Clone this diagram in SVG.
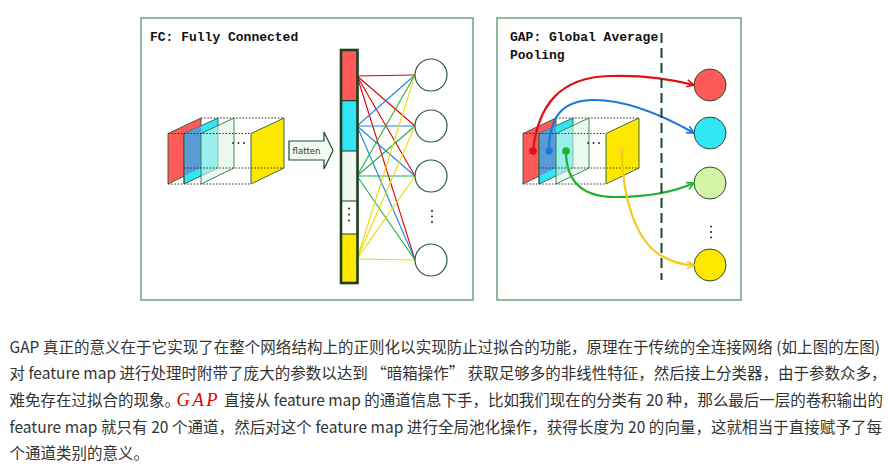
<svg xmlns="http://www.w3.org/2000/svg" xmlns:xlink="http://www.w3.org/1999/xlink" width="888" height="467" viewBox="0 0 888 467">
<style>
.panel{fill:#fff;stroke:#78a888;stroke-width:1.6}
.title{font-family:"Liberation Mono","DejaVu Sans Mono",monospace;font-weight:bold;font-size:13px;fill:#111}
.plane{stroke:#2a5a3a;stroke-width:0.9}
.dotl{stroke:#222;stroke-width:1;stroke-dasharray:1.4 1.8;fill:none}
.fcn{fill:#fff;stroke:#2a5a3a;stroke-width:1.2}
.gapn{stroke:#2a4a2a;stroke-width:1}
.ln{stroke-width:1.1;fill:none}
.cv{stroke-width:2.2;fill:none}
.para{font-family:"Noto Sans CJK SC","Noto Sans",sans-serif;font-size:15.5px;fill:#333}
</style>
<defs>
<marker id="arR" viewBox="0 0 10 10" refX="9" refY="5" markerWidth="9" markerHeight="9" markerUnits="userSpaceOnUse" orient="auto"><path d="M1,1 L9,5 L1,9" fill="none" stroke="#e01010" stroke-width="1.8"/></marker>
<marker id="arB" viewBox="0 0 10 10" refX="9" refY="5" markerWidth="9" markerHeight="9" markerUnits="userSpaceOnUse" orient="auto"><path d="M1,1 L9,5 L1,9" fill="none" stroke="#1a78d8" stroke-width="1.8"/></marker>
<marker id="arG" viewBox="0 0 10 10" refX="9" refY="5" markerWidth="9" markerHeight="9" markerUnits="userSpaceOnUse" orient="auto"><path d="M1,1 L9,5 L1,9" fill="none" stroke="#22b030" stroke-width="1.8"/></marker>
<marker id="arY" viewBox="0 0 10 10" refX="9" refY="5" markerWidth="9" markerHeight="9" markerUnits="userSpaceOnUse" orient="auto"><path d="M1,1 L9,5 L1,9" fill="none" stroke="#f2c81a" stroke-width="1.8"/></marker>
<g id="fmaps">
<polygon class="plane" points="168,133.5 201,118 201,168 168,184" fill="#ff5a5a"/>
<polygon class="plane" points="184,133.5 218,118 218,168 184,184" fill="#33e6f5"/>
<polygon points="184,133.5 201,125.7 201,168 184,176" fill="#5b9bd5"/>
<polyline points="184,133.5 184,184" stroke="#2a5a3a" stroke-width="0.9" fill="none"/>
<polygon points="201,133.5 234,118 234,168 201,184" fill="#dcf5e4" fill-opacity="0.6" stroke="#2a7a4a" stroke-width="0.9"/>
<polygon class="plane" points="251,133.5 284,118 284,168 251,184" fill="#ffe800"/>
<path class="dotl" d="M201,118 H284 M168,133.5 H251 M184,168 H284 M168,184 H251"/>
<circle cx="233" cy="143" r="0.9" fill="#222"/><circle cx="238.5" cy="143" r="0.9" fill="#222"/><circle cx="244" cy="143" r="0.9" fill="#222"/>
</g>
</defs>

<g id="fc-panel">
<rect class="panel" x="141" y="18" width="332" height="282"/>
<text class="title" x="150" y="40.5">FC: Fully Connected</text>
</g>
<g id="fc-featuremaps"><use xlink:href="#fmaps"/></g>
<g id="flatten">
<path d="M289,141 H324 V132 L333,150.5 L324,169 V160 H289 Z" fill="#f2faf2" stroke="#1e4a2a" stroke-width="1.2"/>
<text x="306.5" y="153.5" text-anchor="middle" font-family="DejaVu Sans, sans-serif" font-size="8.5" fill="#333">flatten</text>
</g>

<g id="connectors">
<g class="ln" stroke="#e00000">
<line x1="357" y1="76" x2="415" y2="75"/><line x1="357" y1="76" x2="415" y2="126"/><line x1="357" y1="76" x2="415" y2="176"/><line x1="357" y1="76" x2="415" y2="260"/>
</g>
<g class="ln" stroke="#1f86e0">
<line x1="357" y1="126" x2="415" y2="75"/><line x1="357" y1="126" x2="415" y2="126"/><line x1="357" y1="126" x2="415" y2="176"/><line x1="357" y1="126" x2="415" y2="260"/>
</g>
<g class="ln" stroke="#22b040">
<line x1="357" y1="176" x2="415" y2="75"/><line x1="357" y1="176" x2="415" y2="126"/><line x1="357" y1="176" x2="415" y2="176"/><line x1="357" y1="176" x2="415" y2="260"/>
</g>
<g class="ln" stroke="#f2d800">
<line x1="357" y1="259" x2="415" y2="75"/><line x1="357" y1="259" x2="415" y2="126"/><line x1="357" y1="259" x2="415" y2="176"/><line x1="357" y1="259" x2="415" y2="260"/>
</g>
</g>

<g id="fc-vector">
<rect x="341" y="50" width="16.5" height="50.7" fill="#ff5a5a"/>
<rect x="341" y="100.7" width="16.5" height="50.3" fill="#33e6f5"/>
<rect x="341" y="151" width="16.5" height="50" fill="#eef8ee"/>
<rect x="341" y="201" width="16.5" height="33" fill="#fff"/>
<rect x="341" y="234" width="16.5" height="49" fill="#ffe800"/>
<path d="M341,100.7 H357.5 M341,151 H357.5 M341,201 H357.5 M341,234 H357.5" stroke="#1e3f1e" stroke-width="1.2"/>
<rect x="341" y="50" width="16.5" height="233" fill="none" stroke="#1e3f1e" stroke-width="2.6"/>
<circle cx="349" cy="208.5" r="1" fill="#222"/><circle cx="349" cy="214.5" r="1" fill="#222"/><circle cx="349" cy="220.5" r="1" fill="#222"/>
</g>
<g id="fc-n1"><circle class="fcn" cx="431" cy="75" r="16"/></g>
<g id="fc-n2"><circle class="fcn" cx="431" cy="126" r="16"/></g>
<g id="fc-n3"><circle class="fcn" cx="431" cy="176" r="16"/></g>
<g id="fc-dots"><circle cx="432" cy="211" r="1" fill="#222"/><circle cx="432" cy="216.5" r="1" fill="#222"/><circle cx="432" cy="222" r="1" fill="#222"/></g>
<g id="fc-n4"><circle class="fcn" cx="431" cy="260" r="16"/></g>

<g id="gap-panel">
<rect class="panel" x="497" y="18" width="244" height="282"/>
<text class="title" x="510" y="40.5">GAP: Global Average</text>
<text class="title" x="510" y="58.5">Pooling</text>
</g>
<g id="gap-featuremaps">
<use xlink:href="#fmaps" transform="translate(355,0)"/>
<circle cx="622" cy="151" r="3.8" fill="#ffc830" fill-opacity="0.55"/>
</g>
<g id="gap-n1"><circle class="gapn" cx="710" cy="85" r="16" fill="#ff5a5a"/></g>
<g id="gap-n2"><circle class="gapn" cx="710" cy="133" r="16" fill="#33e6f5"/></g>
<g id="gap-n3"><circle class="gapn" cx="710" cy="183" r="16" fill="#d4f5a8"/></g>
<g id="gap-dots"><circle cx="711" cy="226.5" r="1" fill="#222"/><circle cx="711" cy="232" r="1" fill="#222"/><circle cx="711" cy="237.5" r="1" fill="#222"/></g>
<g id="gap-n4"><circle class="gapn" cx="710" cy="265" r="16" fill="#ffe800"/></g>

<g id="gap-connectors">
<path class="cv" stroke="#e01010" d="M533,151 C538,105 560,77 610,76 C640,75 670,79 694,85" marker-end="url(#arR)"/>
<path class="cv" stroke="#1a78d8" d="M549,151 C549,116 563,100 594,100 C628,100 664,116 694,133" marker-end="url(#arB)"/>
<path class="cv" stroke="#22b030" d="M566,151 C566,182 582,197 615,197 C650,197 674,192 694,183" marker-end="url(#arG)"/>
<path class="cv" stroke="#f2c81a" d="M622,151 C622,198 636,240 660,255 C673,263 684,265 694,265" marker-end="url(#arY)"/>
<circle cx="533" cy="151" r="3.8" fill="#e01010"/>
<circle cx="549" cy="151" r="3.8" fill="#1a78d8"/>
<circle cx="566" cy="151" r="3.8" fill="#22b030"/>
</g>
<g id="gap-divider"><line x1="661.5" y1="33" x2="661.5" y2="280" stroke="#1a4a2a" stroke-width="2" stroke-dasharray="10 5"/></g>

<g id="paragraph">
<text class="para" x="9.5" y="352.5" textLength="870.5" lengthAdjust="spacing">GAP 真正的意义在于它实现了在整个网络结构上的正则化以实现防止过拟合的功能，原理在于传统的全连接网络 (如上图的左图)</text>
<text class="para" x="9.5" y="379.2" textLength="877" lengthAdjust="spacing">对 feature map 进行处理时附带了庞大的参数以达到 “暗箱操作” 获取足够多的非线性特征，然后接上分类器，由于参数众多，</text>
<text class="para" x="9.5" y="405.9">难免存在过拟合的现象。</text>
<text x="176.5" y="405.9" font-family="Liberation Serif, serif" font-style="italic" font-size="18.5" fill="#e00000" textLength="41" lengthAdjust="spacing">GAP</text>
<text class="para" x="224" y="405.9" textLength="659" lengthAdjust="spacing">直接从 feature map 的通道信息下手，比如我们现在的分类有 20 种，那么最后一层的卷积输出的</text>
<text class="para" x="9.5" y="432.6" textLength="872.5" lengthAdjust="spacing">feature map 就只有 20 个通道，然后对这个 feature map 进行全局池化操作，获得长度为 20 的向量，这就相当于直接赋予了每</text>
<text class="para" x="9.5" y="459.3">个通道类别的意义。</text>
</g>
</svg>
